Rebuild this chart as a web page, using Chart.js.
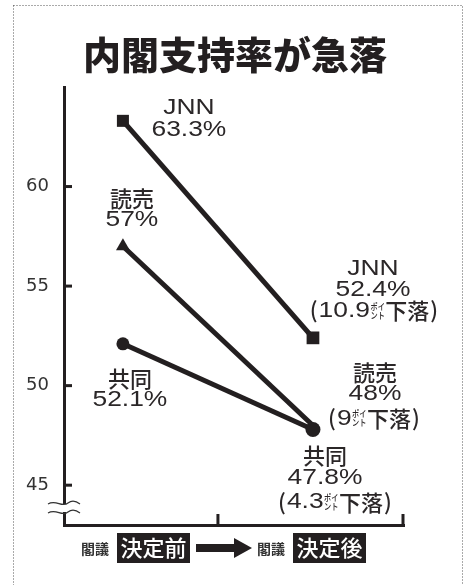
<!DOCTYPE html>
<html>
<head>
<meta charset="utf-8">
<script src="https://cdn.jsdelivr.net/npm/chart.js@4"></script>
<style>
  body { margin: 0; background: #fff; }
  #wrap { width: 463px; height: 585px; position: relative; }
</style>
</head>
<body>
<div id="wrap"><canvas id="chart"></canvas></div>
<script>
// data
var chartTitle = "内閣支持率が急落";
var periods = ["閣議決定前", "閣議決定後"];
var pollsters = ["JNN", "読売", "共同"];
var jnnValues = [63.3, 52.4];
var yomiuriValues = [57, 48];
var kyodoValues = [52.1, 47.8];
var dropValues = ["10.9", "9", "4.3"];
var yTicks = [45, 50, 55, 60];

var ink = "#231f20";
var latin = '"Liberation Sans", "Noto Sans CJK JP", sans-serif';
var jp = '"Noto Sans CJK JP", sans-serif';

function toPoints(values) {
    return values.map(function(v, i) {
        return { x: i, y: v };
    });
}

// draws a row of text pieces centred on cx; sx stretches a piece sideways,
// {stack:[a,b]} is the small two-line kana used for "ポイント"
function drawRich(ctx, pieces, cx, cy) {
    var widths = pieces.map(function(p) {
        ctx.font = p.font;
        var w = p.stack
            ? Math.max(ctx.measureText(p.stack[0]).width, ctx.measureText(p.stack[1]).width)
            : ctx.measureText(p.text).width;
        return w * (p.sx || 1) + (p.gap || 0);
    });
    var total = widths.reduce(function(a, b) { return a + b; }, 0);
    var x = cx - total / 2;
    ctx.textBaseline = "middle";
    ctx.textAlign = "left";
    pieces.forEach(function(p, i) {
        ctx.font = p.font;
        ctx.save();
        ctx.translate(x + (p.gap || 0) / 2, cy + (p.dy || 0));
        ctx.scale(p.sx || 1, 1);
        if (p.stack) {
            ctx.fillText(p.stack[0], 0, -4.5);
            ctx.fillText(p.stack[1], 0, 4.5);
        } else {
            ctx.fillText(p.text, 0, 0);
        }
        ctx.restore();
        x += widths[i];
    });
}

function num(text) {
    return { text: text, font: "22px " + latin, sx: 1.2 };
}

function dropLine(value) {
    return [
        { text: "(", font: "500 22px " + jp, dy: -1, gap: 2 },
        num(value),
        { stack: ["ポイ", "ント"], font: "500 9px " + jp, sx: 0.8, gap: 1 },
        { text: "下落", font: "500 22px " + jp },
        { text: ")", font: "500 22px " + jp, dy: -1, gap: 2 }
    ];
}

var decorPlugin = {
    id: "decor",
    beforeDraw: function(chart) {
        var ctx = chart.ctx;
        ctx.save();
        ctx.strokeStyle = "#555";
        ctx.lineWidth = 1;
        ctx.setLineDash([1, 2]);
        ctx.strokeRect(13.5, 5.5, 449, 600);
        ctx.setLineDash([]);
        ctx.fillStyle = ink;
        ctx.font = "900 38px " + jp;
        ctx.textAlign = "center";
        ctx.textBaseline = "middle";
        ctx.fillText(chartTitle, 235, 55);
        ctx.restore();
    },
    afterDatasetsDraw: function(chart) {
        var ctx = chart.ctx;
        var xs = chart.scales.x;
        var ys = chart.scales.y;
        var area = chart.chartArea;
        ctx.save();
        ctx.fillStyle = ink;
        ctx.strokeStyle = ink;

        // inward ticks
        ctx.lineWidth = 3;
        yTicks.forEach(function(v) {
            var y = ys.getPixelForValue(v);
            ctx.beginPath();
            ctx.moveTo(area.left, y);
            ctx.lineTo(area.left + 8, y);
            ctx.stroke();
        });
        [0.5, xs.max].forEach(function(v) {
            var x = xs.getPixelForValue(v);
            if (v === xs.max) x -= 1;
            ctx.beginPath();
            ctx.moveTo(x, area.bottom);
            ctx.lineTo(x, area.bottom - 11);
            ctx.stroke();
        });

        // axis break
        ctx.fillStyle = "#fff";
        ctx.fillRect(area.left - 3, 504, 6, 8);
        ctx.strokeStyle = "#333";
        ctx.lineWidth = 1.2;
        [503, 512].forEach(function(y) {
            ctx.beginPath();
            ctx.moveTo(area.left - 16, y + 1);
            ctx.bezierCurveTo(area.left - 8, y - 4, area.left - 2, y + 5, area.left + 4, y);
            ctx.bezierCurveTo(area.left + 8, y - 3, area.left + 12, y - 2, area.left + 16, y + 1);
            ctx.stroke();
        });

        // point labels: [dx, dy of each line, (dx of drop line)] from the marker
        ctx.fillStyle = "#2b2728";
        var series = [jnnValues, yomiuriValues, kyodoValues];
        var leftOff = [[66, -13, 9], [9, -48, -26], [7, 35, 56]];
        var rightOff = [[60, -69, -48, -27, 61], [62, -53, -32, -7, 61], [12, 26, 49, 73, 22]];
        series.forEach(function(vals, s) {
            var nameFont = s === 0 ? "22px " + latin : "500 22px " + jp;
            var name = { text: pollsters[s], font: nameFont, sx: s === 0 ? 1.2 : 1 };
            var o = leftOff[s];
            var px = xs.getPixelForValue(0) + o[0];
            var py = ys.getPixelForValue(vals[0]);
            drawRich(ctx, [name], px, py + o[1]);
            drawRich(ctx, [num(vals[0] + "%")], px, py + o[2]);

            o = rightOff[s];
            var bx = xs.getPixelForValue(1);
            py = ys.getPixelForValue(vals[1]);
            drawRich(ctx, [name], bx + o[0], py + o[1]);
            drawRich(ctx, [num(vals[1] + "%")], bx + o[0], py + o[2]);
            drawRich(ctx, dropLine(dropValues[s]), bx + o[4], py + o[3]);
        });

        // bottom legend
        var by = 548;
        function tag(x, label) {
            ctx.fillStyle = "#333";
            ctx.font = "bold 14px " + jp;
            ctx.textAlign = "left";
            ctx.textBaseline = "middle";
            ctx.fillText("閣議", x, by + 1);
            ctx.fillStyle = ink;
            ctx.fillRect(x + 36, by - 15, 73, 30);
            ctx.fillStyle = "#fff";
            ctx.font = "500 22px " + jp;
            ctx.textAlign = "center";
            ctx.fillText(label, x + 72.5, by);
        }
        tag(81, periods[0].slice(2));
        tag(257, periods[1].slice(2));
        ctx.fillStyle = ink;
        ctx.fillRect(196, by - 4, 40, 8);
        ctx.beginPath();
        ctx.moveTo(234, by - 10);
        ctx.lineTo(252, by);
        ctx.lineTo(234, by + 10);
        ctx.closePath();
        ctx.fill();
        ctx.restore();
    }
};

var lineStyle = {
    borderColor: ink,
    backgroundColor: ink,
    borderWidth: 5,
    pointBorderWidth: 0,
    pointHoverRadius: 0
};

new Chart(document.getElementById("chart"), {
    type: "line",
    data: {
        datasets: [
            Object.assign({ label: pollsters[0], data: toPoints(jnnValues), pointStyle: "rect", pointRadius: [8.5, 9] }, lineStyle),
            Object.assign({ label: pollsters[1], data: toPoints(yomiuriValues), pointStyle: "triangle", pointRadius: [8, 0] }, lineStyle),
            Object.assign({ label: pollsters[2], data: toPoints(kyodoValues), pointStyle: "circle", pointRadius: [6.5, 7.5] }, lineStyle)
        ]
    },
    options: {
        responsive: true,
        maintainAspectRatio: false,
        animation: false,
        layout: { padding: { left: 0, right: 59, top: 87, bottom: 0 } },
        plugins: {
            legend: { display: false },
            tooltip: { enabled: false },
            title: { display: false }
        },
        scales: {
            x: {
                type: "linear",
                min: -0.31,
                max: 1.479,
                grid: { display: false },
                border: { display: true, width: 3, color: ink },
                ticks: { display: false },
                afterFit: function(scale) { scale.height = 60; }
            },
            y: {
                min: 43,
                max: 65,
                grid: { display: false },
                border: { display: true, width: 3, color: ink },
                afterBuildTicks: function(scale) {
                    scale.ticks = yTicks.map(function(v) { return { value: v }; });
                },
                ticks: {
                    color: "#333",
                    padding: 7,
                    font: { family: '"DejaVu Sans", sans-serif', size: 18 }
                },
                afterFit: function(scale) { scale.width = 64; }
            }
        }
    },
    plugins: [decorPlugin]
});
</script>
</body>
</html>
